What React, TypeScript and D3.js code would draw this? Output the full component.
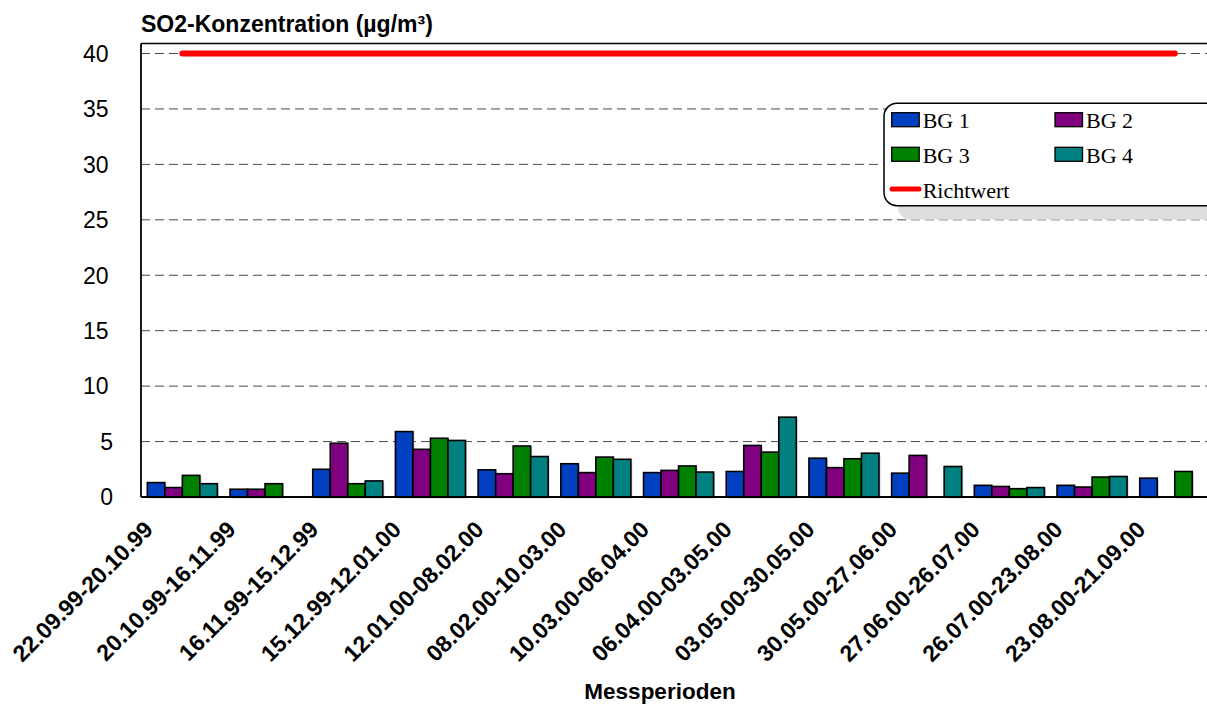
import React from "react";
import * as d3 from "d3";

const categories = [
  "22.09.99-20.10.99", "20.10.99-16.11.99", "16.11.99-15.12.99", "15.12.99-12.01.00",
  "12.01.00-08.02.00", "08.02.00-10.03.00", "10.03.00-06.04.00", "06.04.00-03.05.00",
  "03.05.00-30.05.00", "30.05.00-27.06.00", "27.06.00-26.07.00", "26.07.00-23.08.00",
  "23.08.00-21.09.00",
];
const seriesNames = ["BG 1", "BG 2", "BG 3", "BG 4"];
const bg1 = [1.3, 0.7, 2.5, 5.9, 2.45, 3.0, 2.2, 2.3, 3.5, 2.15, 1.05, 1.05, 1.7];
const bg2 = [0.85, 0.7, 4.85, 4.3, 2.1, 2.2, 2.4, 4.65, 2.65, 3.75, 0.95, 0.9, null];
const bg3 = [1.95, 1.2, 1.2, 5.3, 4.6, 3.6, 2.8, 4.05, 3.45, null, 0.75, 1.8, 2.3];
const bg4 = [1.2, null, 1.45, 5.1, 3.65, 3.4, 2.25, 7.2, 3.95, 2.75, 0.85, 1.85, null];
const seriesColors = ["#0040C0", "#800080", "#008000", "#008080"];
const richtwert = 40;
const yTicks = [0, 5, 10, 15, 20, 25, 30, 35, 40];

const seriesValues = [bg1, bg2, bg3, bg4];

export default function App() {
  const W = 1207, H = 704;
  const left = 141, step = 82.7;
  const bottom = 497, top = 43.5;
  const x0 = d3.scaleBand<string>().domain(categories)
    .range([left, left + step * categories.length])
    .paddingInner(0.153).paddingOuter(0.0765);
  const x1 = d3.scaleBand<string>().domain(seriesNames).range([0, x0.bandwidth()]).padding(0);
  const y = d3.scaleLinear().domain([0, 40]).range([bottom, 53.5]);

  const font = "Arial, 'Liberation Sans', Helvetica, sans-serif";
  const serif = "'Times New Roman', 'Liberation Serif', serif";

  const firstC = x0(categories[0])! + x0.bandwidth() / 2;
  const lastC = x0(categories[categories.length - 1])! + x0.bandwidth() / 2;

  const lx = 884, ly = 103.3, lh = 102.4;

  return (
    <svg width={W} height={H} style={{ position: "absolute", left: 0, top: 0, background: "#fff" }}>
      <rect x={0} y={0} width={W} height={H} fill="#fff" />
      {yTicks.filter(t => t > 0).map(t => (
        <line key={t} x1={left} x2={W} y1={y(t)} y2={y(t)} stroke="#4a4a4a" strokeWidth={1} strokeDasharray="9,5" />
      ))}
      {yTicks.map(t => (
        <text key={t} x={String(t).length === 1 ? 113 : 108.5} y={y(t)} dy="0.36em" textAnchor="end"
          fontFamily={font} fontSize={23} fill="#000">{t}</text>
      ))}
      {categories.map((c, ci) => (
        <g key={c} transform={`translate(${x0(c)},0)`}>
          {seriesNames.map((s, si) => {
            const v = seriesValues[si][ci];
            if (v == null) return null;
            const bx = x1(s)!;
            return (
              <g key={s}>
                <rect x={bx + 1.5} y={y(v) + 1.5} width={x1.bandwidth()} height={bottom - y(v)} fill="#cfcfcf" />
                <rect x={bx} y={y(v)} width={x1.bandwidth()} height={bottom - y(v)} fill={seriesColors[si]}
                  stroke="#000" strokeWidth={1.6} />
              </g>
            );
          })}
        </g>
      ))}
      <line x1={left} x2={W} y1={top} y2={top} stroke="#000" strokeWidth={1.6} />
      <line x1={left} x2={left} y1={top} y2={bottom} stroke="#000" strokeWidth={1.8} />
      <line x1={left} x2={W} y1={bottom} y2={bottom} stroke="#000" strokeWidth={1.8} />
      <line x1={firstC} x2={lastC} y1={y(richtwert)} y2={y(richtwert)} stroke="#ff0000" strokeWidth={6} strokeLinecap="round" />
      {categories.map(c => {
        const cx = x0(c)! + x0.bandwidth() / 2 - 28;
        const cy = 531;
        return (
          <text key={c} x={cx} y={cy} transform={`rotate(-45 ${cx} ${cy})`} textAnchor="end"
            fontFamily={font} fontWeight="bold" fontSize={23} fill="#000">{c}</text>
        );
      })}
      <text x={141} y={32} fontFamily={font} fontWeight="bold" fontSize={23} fill="#000">SO2-Konzentration (µg/m³)</text>
      <text x={660} y={699} textAnchor="middle" fontFamily={font} fontWeight="bold" fontSize={22.5} fill="#000">Messperioden</text>
      <rect x={lx + 14} y={ly + 14} width={400} height={lh} rx={13} fill="#dedede" />
      <rect x={lx} y={ly} width={400} height={lh} rx={13} fill="#fff" stroke="#000" strokeWidth={1.5} />
      {seriesNames.map((s, i) => {
        const col = i % 2, row = Math.floor(i / 2);
        const sx = col === 0 ? 891.7 : 1055;
        const sy = row === 0 ? 112.7 : 147.3;
        return (
          <g key={s}>
            <rect x={sx} y={sy} width={27.5} height={14} fill={seriesColors[i]} stroke="#000" strokeWidth={1.3} />
            <text x={sx + 31} y={sy + 15.5} fontFamily={serif} fontSize={22} fill="#000">{s}</text>
          </g>
        );
      })}
      <line x1={892} x2={919} y1={189} y2={189} stroke="#ff0000" strokeWidth={5} strokeLinecap="round" />
      <text x={922.7} y={198} fontFamily={serif} fontSize={22} fill="#000">Richtwert</text>
    </svg>
  );
}
